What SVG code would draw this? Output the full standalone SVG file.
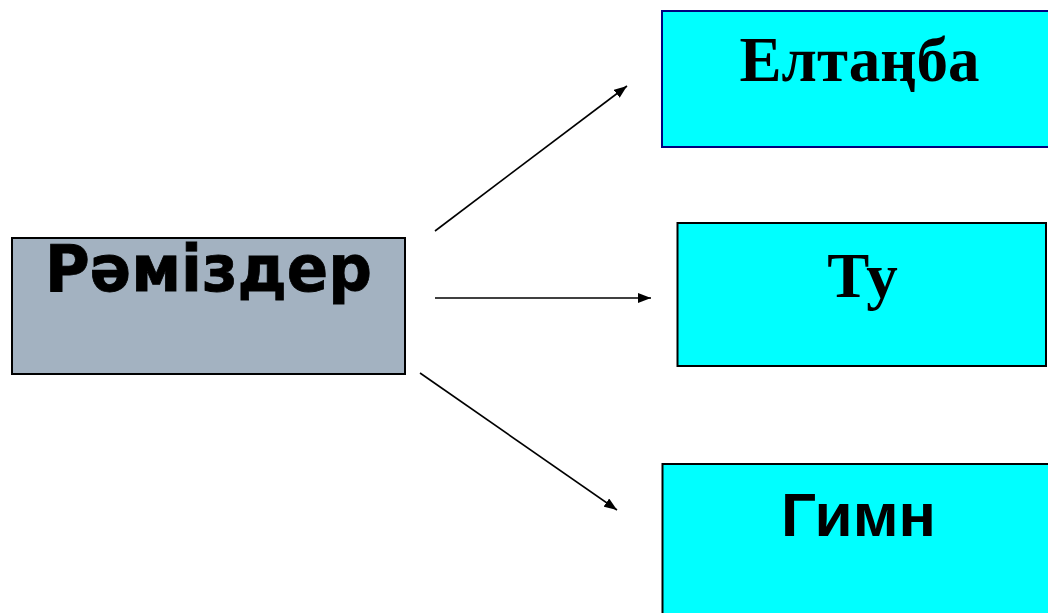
<svg xmlns="http://www.w3.org/2000/svg" width="1048" height="613" viewBox="0 0 1048 613">
<style>
.box{stroke-width:2}
.cyan{fill:#00FFFF}
.serif{font-family:"Liberation Serif","Times New Roman",serif;font-weight:bold;font-size:63px;fill:#000;text-anchor:middle}
.sans{font-family:"Liberation Sans",Arial,sans-serif;font-weight:bold;font-size:62px;fill:#000;text-anchor:middle}
.verd{font-family:"DejaVu Sans",Verdana,sans-serif;font-weight:bold;font-size:64px;fill:#000;text-anchor:middle;stroke:#000;stroke-width:0.8}
.conn{stroke:#000;stroke-width:1.6;fill:none;marker-end:url(#ah)}
</style>
<defs>
<marker id="ah" markerWidth="13" markerHeight="10" refX="13" refY="5" orient="auto" markerUnits="userSpaceOnUse">
<path d="M0,0 L13,5 L0,10 Z" fill="#000"/>
</marker>
</defs>
<rect width="1048" height="613" fill="#fff"/>
<g id="node-ramizder">
<rect class="box" x="12" y="238" width="393" height="136" fill="#A3B2C1" stroke="#000"/>
<text class="verd" x="208.5" y="291" textLength="327" lengthAdjust="spacingAndGlyphs">Рәміздер</text>
</g>
<g id="node-eltanba">
<rect class="box cyan" x="662" y="11" width="390" height="136" stroke="#000080"/>
<text class="serif" x="859.5" y="81">Елтаңба</text>
</g>
<g id="node-tu">
<rect class="box cyan" x="677.5" y="223" width="368.5" height="143" stroke="#000"/>
<text class="serif" x="862.5" y="297">Ту</text>
</g>
<g id="node-gimn">
<rect class="box cyan" x="662.5" y="464" width="390" height="155" stroke="#000"/>
<text class="sans" x="858.5" y="536">Гимн</text>
</g>
<g id="connectors">
<line class="conn" x1="435" y1="231" x2="627" y2="86"/>
<line class="conn" x1="435" y1="298" x2="651" y2="298"/>
<line class="conn" x1="420" y1="373" x2="617" y2="510"/>
</g>
</svg>
